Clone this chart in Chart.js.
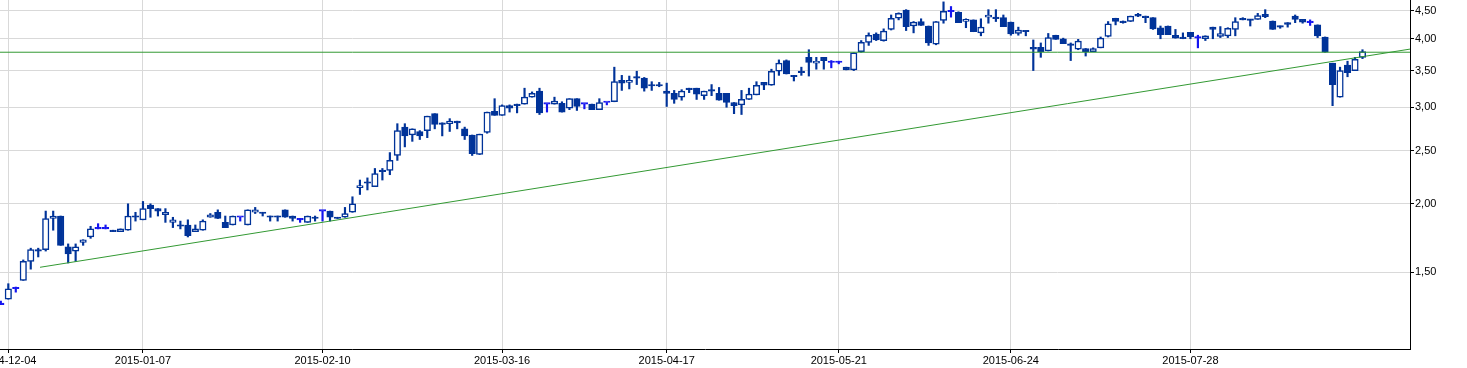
<!DOCTYPE html>
<html>
<head>
<meta charset="utf-8">
<script src="https://cdn.jsdelivr.net/npm/chart.js@4/dist/chart.umd.min.js"></script>
<style>
html,body{margin:0;padding:0;background:#fff;overflow:hidden}
#wrap{width:1467px;height:368px;position:relative}
</style>
</head>
<body>
<div id="wrap"><canvas id="c"></canvas></div>
<script>
// Trading-day index ticks (x axis) and their date labels
const tickIndex = [1, 19, 43, 67, 89, 112, 135, 159];
const tickLabels = ['2014-12-04','2015-01-07','2015-02-10','2015-03-16','2015-04-17','2015-05-21','2015-06-24','2015-07-28'];
// Price ticks (y axis, logarithmic)
const yTicks = [1.5, 2.0, 2.5, 3.0, 3.5, 4.0, 4.5];

// OHLC series, one value per trading day (index 0 = 2014-12-03)
const openV = [
1.31,1.34,1.40,1.45,1.57,1.65,1.65,1.88,1.90,1.67,1.64,1.70,1.74,1.80,1.80,1.79,1.78,1.79,1.90,1.87,
1.99,1.96,1.91,1.85,1.83,1.83,1.78,1.79,1.89,1.93,1.85,1.83,1.89,1.83,1.93,1.93,1.90,1.90,1.95,1.90,
1.87,1.85,1.89,1.94,1.94,1.89,1.89,1.93,2.14,2.19,2.15,2.30,2.30,2.45,2.76,2.67,2.71,2.72,2.92,2.81,
2.80,2.83,2.74,2.67,2.46,2.70,2.95,2.90,3.02,3.04,3.04,3.13,3.21,3.04,3.04,3.05,2.99,3.11,3.04,3.04,
2.97,3.06,3.07,3.36,3.33,3.41,3.39,3.30,3.30,3.21,3.18,3.13,3.25,3.25,3.15,3.23,3.18,3.18,3.06,3.03,
3.10,3.16,3.33,3.29,3.49,3.65,3.43,3.49,3.70,3.61,3.70,3.62,3.62,3.55,3.51,3.79,3.94,4.08,3.97,4.16,
4.36,4.51,4.22,4.30,4.22,3.91,4.32,4.48,4.47,4.30,4.33,4.10,4.38,4.38,4.37,4.29,4.09,4.14,3.86,3.86,
3.80,4.06,4.00,3.91,3.83,3.84,3.79,3.85,4.04,4.36,4.31,4.30,4.43,4.40,4.37,4.19,4.22,4.06,4.03,4.11,
4.01,4.00,4.20,4.04,4.05,4.16,4.36,4.34,4.34,4.43,4.31,4.22,4.28,4.40,4.34,4.28,4.24,4.03,3.61,3.13,
3.58,3.50,3.70];
const highV = [
1.33,1.43,1.41,1.58,1.66,1.66,1.94,1.94,1.90,1.69,1.69,1.72,1.82,1.84,1.83,1.79,1.80,2.00,1.93,2.02,
2.00,1.96,1.96,1.89,1.86,1.87,1.83,1.87,1.92,1.95,1.90,1.90,1.89,1.95,1.97,1.93,1.90,1.90,1.95,1.90,
1.88,1.90,1.90,1.94,1.94,1.89,1.97,2.06,2.21,2.23,2.32,2.32,2.48,2.80,2.80,2.74,2.72,2.89,2.92,2.81,
2.86,2.83,2.76,2.67,2.68,2.94,3.11,3.03,3.03,3.04,3.25,3.20,3.25,3.04,3.13,3.07,3.11,3.11,3.04,3.04,
3.11,3.06,3.55,3.43,3.42,3.49,3.40,3.34,3.33,3.32,3.22,3.23,3.25,3.25,3.21,3.30,3.26,3.18,3.06,3.22,
3.25,3.34,3.33,3.52,3.66,3.66,3.43,3.55,3.82,3.70,3.70,3.65,3.64,3.55,3.77,3.97,4.10,4.10,4.17,4.42,
4.46,4.52,4.30,4.35,4.22,4.30,4.67,4.58,4.48,4.35,4.33,4.35,4.52,4.52,4.42,4.29,4.20,4.14,3.98,3.93,
4.09,4.06,4.01,3.93,3.99,3.84,3.85,4.03,4.30,4.36,4.31,4.40,4.45,4.40,4.37,4.22,4.22,4.16,4.10,4.11,
4.06,4.05,4.20,4.21,4.19,4.37,4.37,4.34,4.45,4.52,4.31,4.22,4.28,4.42,4.34,4.33,4.24,4.03,3.61,3.55,
3.64,3.70,3.82];
const lowV = [
1.31,1.34,1.38,1.45,1.52,1.60,1.64,1.79,1.68,1.56,1.57,1.68,1.73,1.80,1.80,1.78,1.78,1.79,1.86,1.87,
1.89,1.90,1.85,1.81,1.80,1.74,1.78,1.79,1.89,1.88,1.81,1.83,1.86,1.83,1.92,1.90,1.86,1.86,1.89,1.86,
1.85,1.85,1.86,1.86,1.86,1.88,1.89,1.93,2.08,2.12,2.15,2.21,2.26,2.40,2.54,2.60,2.62,2.64,2.74,2.66,
2.71,2.74,2.62,2.45,2.46,2.69,2.90,2.90,2.94,2.93,3.04,3.13,2.91,2.94,3.04,2.94,2.97,2.96,2.98,2.97,
2.97,3.03,3.07,3.22,3.24,3.30,3.21,3.22,3.27,3.01,3.05,3.09,3.19,3.10,3.10,3.15,3.09,3.00,2.92,2.91,
3.10,3.16,3.23,3.29,3.43,3.45,3.35,3.43,3.42,3.52,3.52,3.54,3.60,3.51,3.50,3.78,3.89,3.97,3.96,4.15,
4.33,4.14,4.10,4.23,3.89,3.90,4.27,4.38,4.28,4.19,4.12,4.05,4.27,4.30,4.21,4.06,4.06,4.05,3.50,3.70,
3.80,3.99,3.92,3.65,3.82,3.72,3.79,3.85,4.03,4.24,4.27,4.30,4.39,4.28,4.16,4.00,4.07,4.01,4.00,4.00,
3.85,3.97,4.00,4.02,4.02,4.05,4.33,4.22,4.34,4.37,4.16,4.18,4.20,4.28,4.27,4.23,4.02,3.78,3.02,3.13,
3.41,3.50,3.68];
const closeV = [
1.31,1.40,1.40,1.57,1.65,1.64,1.88,1.90,1.68,1.62,1.67,1.72,1.80,1.80,1.80,1.78,1.80,1.90,1.89,1.96,
1.96,1.94,1.93,1.87,1.82,1.75,1.80,1.86,1.91,1.88,1.81,1.90,1.89,1.95,1.95,1.92,1.89,1.89,1.89,1.88,
1.87,1.90,1.88,1.94,1.89,1.88,1.92,2.00,2.16,2.18,2.27,2.29,2.40,2.72,2.66,2.74,2.66,2.89,2.79,2.79,
2.83,2.81,2.66,2.47,2.68,2.94,2.90,3.02,2.99,3.02,3.13,3.18,2.93,3.04,3.08,2.94,3.11,3.01,3.04,2.97,
3.06,3.06,3.34,3.32,3.36,3.39,3.25,3.28,3.28,3.18,3.10,3.21,3.23,3.17,3.21,3.21,3.09,3.06,3.02,3.10,
3.17,3.29,3.29,3.49,3.61,3.45,3.41,3.47,3.62,3.64,3.65,3.62,3.62,3.51,3.77,3.94,4.06,3.98,4.13,4.36,
4.45,4.21,4.29,4.23,3.93,4.30,4.49,4.48,4.28,4.34,4.12,4.20,4.42,4.35,4.21,4.08,4.15,4.12,3.83,3.79,
4.02,3.99,3.92,3.89,3.96,3.79,3.84,4.01,4.26,4.30,4.28,4.40,4.40,4.37,4.17,4.07,4.07,4.01,4.00,4.03,
4.01,4.05,4.16,4.09,4.18,4.30,4.33,4.32,4.41,4.39,4.16,4.20,4.25,4.34,4.29,4.28,4.05,3.78,3.30,3.50,
3.47,3.67,3.79];

// Horizontal resistance level and rising trend line (index, price)
const levelLine = 3.78;
const trendX = [5.24, 188.35];
const trendY = [1.532, 3.83];

// Visible axis range
const xRange = [-0.11, 188.35];
const yRange = [1.087, 4.707];

const BLUE = '#003399';
const DOJI = '#1414f0';
const GREEN = '#339933';

const isDoji = i => openV[i] === closeV[i];
const isUp = i => closeV[i] > openV[i];

const wickData = openV.map((o, i) => ({ x: i, y: [lowV[i], highV[i]] }));
const bodyData = openV.map((o, i) => ({ x: i, y: [openV[i], closeV[i]] }));

const FONT = { family: '"Liberation Sans", Arial, sans-serif', size: 11 };

new Chart(document.getElementById('c'), {
  type: 'bar',
  data: {
    datasets: [
      {
        type: 'bar', data: wickData, grouped: false, order: 3,
        barThickness: 1.5,
        backgroundColor: ctx => isDoji(ctx.dataIndex) ? DOJI : BLUE,
        borderWidth: 0
      },
      {
        type: 'bar', data: bodyData, grouped: false, order: 2,
        barThickness: 6.5, minBarLength: 1.5,
        backgroundColor: ctx => isDoji(ctx.dataIndex) ? DOJI : (isUp(ctx.dataIndex) ? '#ffffff' : BLUE),
        borderColor: ctx => isDoji(ctx.dataIndex) ? DOJI : BLUE,
        borderWidth: 1.5, borderSkipped: false
      },
      {
        type: 'line', order: 1,
        data: [{ x: xRange[0], y: levelLine }, { x: xRange[1], y: levelLine }],
        borderColor: GREEN, borderWidth: 1, pointRadius: 0, tension: 0
      },
      {
        type: 'line', order: 0,
        data: trendX.map((x, k) => ({ x: x, y: trendY[k] })),
        borderColor: GREEN, borderWidth: 1, pointRadius: 0, tension: 0
      }
    ]
  },
  options: {
    responsive: true,
    maintainAspectRatio: false,
    animation: false,
    events: [],
    layout: { padding: 0 },
    plugins: { legend: { display: false }, tooltip: { enabled: false }, title: { display: false } },
    scales: {
      x: {
        type: 'linear', position: 'bottom',
        min: xRange[0], max: xRange[1], offset: false,
        grid: { offset: false, color: '#d9d9d9', lineWidth: 1, tickColor: '#000', tickLength: 4, drawTicks: true },
        border: { color: '#000', width: 1 },
        ticks: {
          autoSkip: false, maxRotation: 0, minRotation: 0, padding: 1,
          color: '#000', font: FONT,
          callback: (v, idx) => tickLabels[idx]
        },
        afterBuildTicks: s => { s.ticks = tickIndex.map(v => ({ value: v })); },
        afterFit: s => { s.height = 19; s.paddingLeft = 0; s.paddingRight = 0; }
      },
      y: {
        type: 'logarithmic', position: 'right',
        min: yRange[0], max: yRange[1], bounds: 'data', beginAtZero: false,
        grid: { color: '#d9d9d9', lineWidth: 1, tickColor: '#000', tickLength: 4, drawTicks: true },
        border: { color: '#000', width: 1 },
        ticks: {
          padding: 1, color: '#000', font: FONT, autoSkip: false,
          callback: v => Number(v).toFixed(2).replace('.', ',')
        },
        afterBuildTicks: s => { s.ticks = yTicks.map(v => ({ value: v })); },
        afterFit: s => { s.width = 57; s.paddingTop = 0; s.paddingBottom = 0; }
      }
    }
  }
});
</script>
</body>
</html>
